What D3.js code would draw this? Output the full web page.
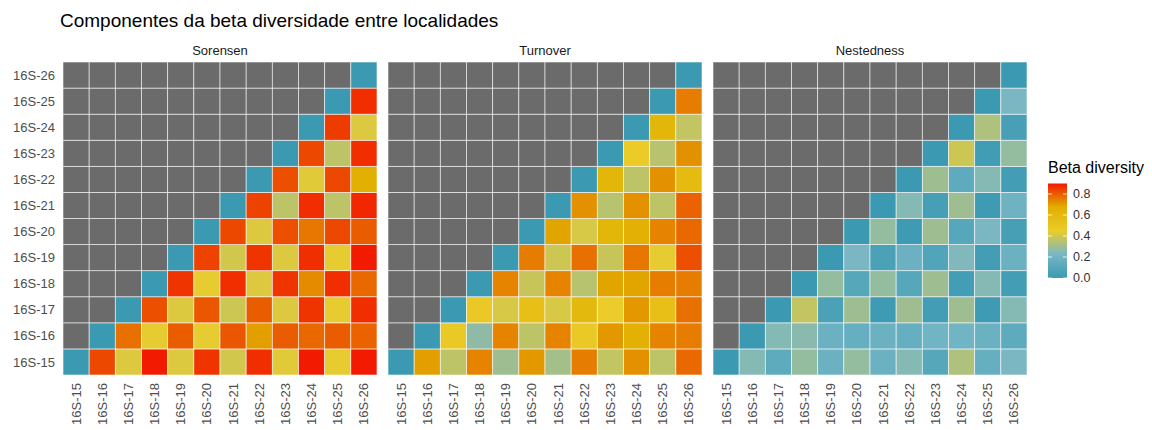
<!DOCTYPE html>
<html>
<head>
<meta charset="utf-8">
<script src="https://cdn.jsdelivr.net/npm/d3@7"></script>
<style>
  body { margin: 0; background: #fff; }
  text { font-family: "Liberation Sans", Arial, sans-serif; }
</style>
</head>
<body>
<div id="chart"></div>
<script>
// sites on both axes
var sites = ["16S-15", "16S-16", "16S-17", "16S-18", "16S-19", "16S-20",
             "16S-21", "16S-22", "16S-23", "16S-24", "16S-25", "16S-26"];

var facets = ["Sorensen", "Turnover", "Nestedness"];

// row i = site i on y, values for x = site i .. site 26
var sorensen = [
  [0, .83, .42, .90, .42, .86, .40, .87, .43, .90, .44, .90],
  [0, .77, .44, .80, .44, .81, .70, .80, .78, .80, .79],
  [0, .82, .42, .81, .39, .80, .42, .86, .44, .87],
  [0, .86, .44, .87, .42, .86, .73, .87, .78],
  [0, .84, .40, .86, .42, .87, .44, .90],
  [0, .83, .42, .82, .76, .83, .80],
  [0, .84, .36, .87, .36, .88],
  [0, .82, .43, .83, .67],
  [0, .83, .36, .87],
  [0, .85, .42],
  [0, .87],
  [0]
];

var turnover = [
  [0, .70, .36, .74, .30, .71, .31, .75, .37, .72, .36, .78],
  [0, .47, .27, .74, .36, .74, .47, .71, .66, .74, .75],
  [0, .47, .41, .55, .41, .60, .45, .71, .55, .77],
  [0, .74, .38, .74, .35, .69, .69, .75, .75],
  [0, .75, .39, .77, .38, .76, .44, .82],
  [0, .69, .41, .62, .66, .74, .78],
  [0, .72, .35, .72, .36, .79],
  [0, .62, .36, .72, .58],
  [0, .46, .35, .72],
  [0, .62, .37],
  [0, .75],
  [0]
];

var nestedness = [
  [0, .25, .13, .28, .18, .28, .18, .25, .10, .33, .16, .23],
  [0, .25, .26, .18, .16, .18, .16, .20, .20, .18, .13],
  [0, .37, .06, .30, .01, .30, .03, .30, .01, .25],
  [0, .28, .10, .28, .10, .30, .03, .25, .03],
  [0, .23, .06, .18, .08, .24, .03, .18],
  [0, .28, .01, .30, .10, .23, .04],
  [0, .25, .04, .30, .01, .19],
  [0, .30, .13, .25, .03],
  [0, .39, .02, .28],
  [0, .33, .05],
  [0, .23],
  [0]
];

var legendTicks = [0, 0.2, 0.4, 0.6, 0.8];
var zissou = ["#3B9AB2", "#78B7C5", "#EBCC2A", "#E1AF00", "#F21A00"];

var svgWidth = 1152;
var svgHeight = 430;

var panelW = 314;
var panelH = 313;
var panelGap = 11;
var margin = { top: 62, left: 63 };

var svg = d3.select("#chart")
  .append("svg")
  .attr("width", svgWidth)
  .attr("height", svgHeight);

// colorRampPalette style, plain rgb blending
var color = d3.scaleLinear()
  .domain([0, 0.225, 0.45, 0.675, 0.9])
  .range(zissou)
  .interpolate(d3.interpolateRgb)
  .clamp(true);

// turn the triangle rows into a full grid (NA above diagonal)
function toCells(rows) {
  var cells = [];
  sites.forEach(function(ys, i) {
    sites.forEach(function(xs, j) {
      var v = j >= i ? rows[i][j - i] : null;
      cells.push({ x: xs, y: ys, value: v });
    });
  });
  return cells;
}

var panelData = [toCells(sorensen), toCells(turnover), toCells(nestedness)];

var xScale = d3.scaleBand().domain(sites).range([0, panelW]);
var yScale = d3.scaleBand().domain(sites).range([panelH, 0]);

// title
svg.append("text")
  .attr("x", 60)
  .attr("y", 27)
  .attr("font-size", "19px")
  .attr("fill", "#000")
  .text("Componentes da beta diversidade entre localidades");

facets.forEach(function(name, k) {
  var px = margin.left + k * (panelW + panelGap);
  var g = svg.append("g")
    .attr("transform", `translate(${px}, ${margin.top})`);

  // strip label
  g.append("text")
    .attr("x", panelW / 2)
    .attr("y", -7)
    .attr("text-anchor", "middle")
    .attr("font-size", "13px")
    .attr("fill", "#1a1a1a")
    .text(name);

  g.selectAll("rect.tile")
    .data(panelData[k])
    .enter()
    .append("rect")
    .attr("class", "tile")
    .attr("x", d => xScale(d.x))
    .attr("y", d => yScale(d.y))
    .attr("width", xScale.bandwidth())
    .attr("height", yScale.bandwidth())
    .attr("fill", d => d.value === null ? "#6b6b6b" : color(d.value))
    .attr("stroke", "#ffffff")
    .attr("stroke-opacity", 0.7)
    .attr("stroke-width", 0.8);

  // x labels, rotated
  g.selectAll("text.xlab")
    .data(sites)
    .enter()
    .append("text")
    .attr("class", "xlab")
    .attr("transform", d => `translate(${xScale(d) + xScale.bandwidth() / 2}, ${panelH + 8}) rotate(-90)`)
    .attr("dy", "0.35em")
    .attr("text-anchor", "end")
    .attr("font-size", "13px")
    .attr("fill", "#4d4d4d")
    .text(d => d);

  // y labels only on first panel
  if (k === 0) {
    g.selectAll("text.ylab")
      .data(sites)
      .enter()
      .append("text")
      .attr("class", "ylab")
      .attr("x", -8)
      .attr("y", d => yScale(d) + yScale.bandwidth() / 2)
      .attr("dy", "0.35em")
      .attr("text-anchor", "end")
      .attr("font-size", "13px")
      .attr("fill", "#4d4d4d")
      .text(d => d);
  }
});

// legend
var legendX = 1048;
var barW = 19;
var maxVal = d3.max([].concat(sorensen.flat(), turnover.flat(), nestedness.flat()));
var legendY = d3.scaleLinear().domain([0, maxVal]).range([278, 183.5]);

svg.append("text")
  .attr("x", legendX)
  .attr("y", 173)
  .attr("font-size", "16px")
  .attr("fill", "#000")
  .text("Beta diversity");

var grad = svg.append("defs").append("linearGradient")
  .attr("id", "betaGrad")
  .attr("x1", "0").attr("y1", "1")
  .attr("x2", "0").attr("y2", "0");

d3.range(0, 1.0001, 0.05).forEach(function(t) {
  grad.append("stop")
    .attr("offset", t)
    .attr("stop-color", color(t * maxVal));
});

svg.append("rect")
  .attr("x", legendX)
  .attr("y", legendY(maxVal))
  .attr("width", barW)
  .attr("height", legendY(0) - legendY(maxVal))
  .attr("fill", "url(#betaGrad)");

legendTicks.forEach(function(t) {
  var y = legendY(t);
  svg.append("line")
    .attr("x1", legendX).attr("x2", legendX + 4)
    .attr("y1", y).attr("y2", y)
    .attr("stroke", "#fff").attr("stroke-width", 0.8);
  svg.append("line")
    .attr("x1", legendX + barW - 4).attr("x2", legendX + barW)
    .attr("y1", y).attr("y2", y)
    .attr("stroke", "#fff").attr("stroke-width", 0.8);
  svg.append("text")
    .attr("x", legendX + barW + 6)
    .attr("y", y)
    .attr("dy", "0.35em")
    .attr("font-size", "12.5px")
    .attr("fill", "#333")
    .text(d3.format(".1f")(t));
});
</script>
</body>
</html>
